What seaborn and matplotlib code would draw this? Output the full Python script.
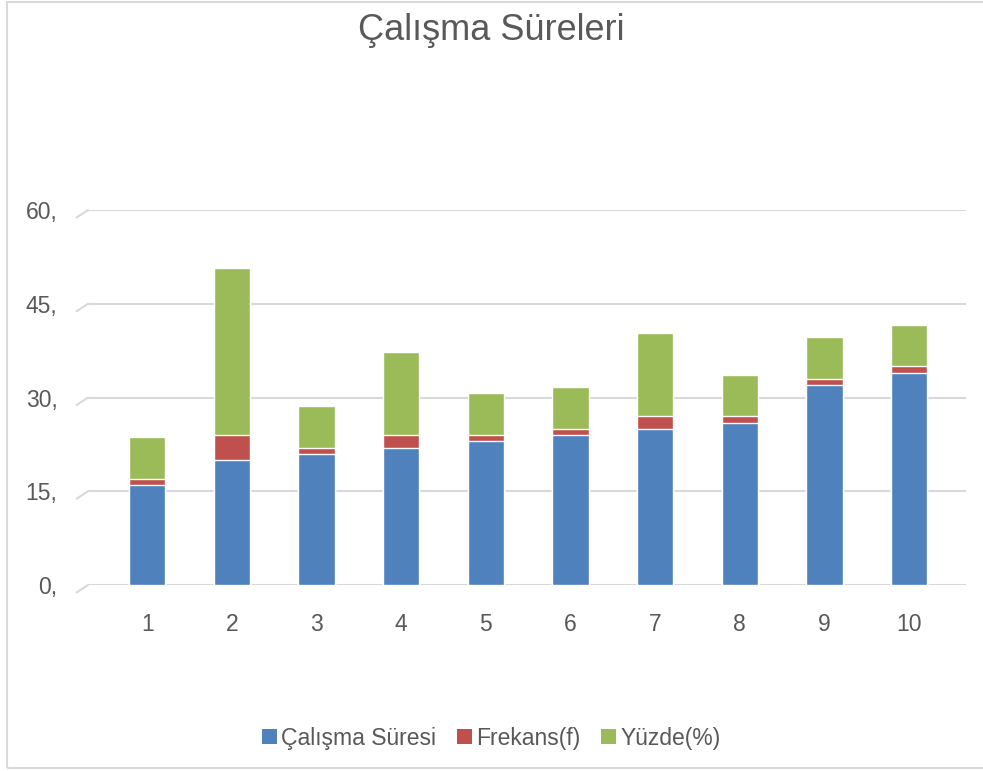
import numpy as np
import pandas as pd
import matplotlib
matplotlib.use('Agg')
import matplotlib.pyplot as plt
import matplotlib.transforms as mtransforms
from matplotlib.patches import Patch, Rectangle
import seaborn as sns

# data
categories = ['1', '2', '3', '4', '5', '6', '7', '8', '9', '10']
calisma_suresi = [16, 20, 21, 22, 23, 24, 25, 26, 32, 34]
frekans = [1, 4, 1, 2, 1, 1, 2, 1, 1, 1]
yuzde = [6.67, 26.67, 6.67, 13.33, 6.67, 6.67, 13.33, 6.67, 6.67, 6.67]
series_names = ['Çalışma Süresi', 'Frekans(f)', 'Yüzde(%)']
y_ticks = [0, 15, 30, 45, 60]
y_ticklabels = ['0,', '15,', '30,', '45,', '60,']

colors = ['#4F81BD', '#C0504D', '#9BBB59']
text_color = '#595959'
grid_color = '#D9D9D9'

df = pd.DataFrame({
    'cat': categories,
    'blue': calisma_suresi,
    'red': frekans,
    'green': yuzde,
})
df['blue_red'] = df['blue'] + df['red']
df['total'] = df['blue_red'] + df['green']

sns.set_theme(style='white')
plt.rcParams['font.family'] = ['Liberation Sans', 'DejaVu Sans']

fig = plt.figure(figsize=(9.83, 7.71), dpi=100)
ax = fig.add_axes([0.0895, 0.2412, 0.893, 0.4864])

# stacked bars: draw cumulative totals back to front
bw = 0.43
sns.barplot(data=df, x='cat', y='total', color=colors[2], width=bw,
            errorbar=None, saturation=1, ax=ax, zorder=3)
sns.barplot(data=df, x='cat', y='blue_red', color=colors[1], width=bw,
            errorbar=None, saturation=1, ax=ax, zorder=3)
sns.barplot(data=df, x='cat', y='blue', color=colors[0], width=bw,
            errorbar=None, saturation=1, ax=ax, zorder=3)

ax.set_xlim(-0.70, 9.67)
ax.set_ylim(0, 60)
ax.set_yticks(y_ticks)
ax.set_yticklabels(y_ticklabels)
ax.set_xlabel('')
ax.set_ylabel('')
ax.tick_params(axis='both', length=0, labelsize=16.5, colors=text_color)
ax.tick_params(axis='x', pad=20)
ax.tick_params(axis='y', pad=22)
for s in ax.spines.values():
    s.set_visible(False)

# gridlines with small slanted tail on the left (3D wall look)
blend = mtransforms.blended_transform_factory(ax.transAxes, ax.transData)
for t in y_ticks:
    ax.axhline(t, color=grid_color, lw=1.5, zorder=1)
    ax.plot([-0.013, 0], [t - 1.2, t], color=grid_color, lw=1.5,
            transform=blend, clip_on=False, zorder=1)

fig.text(0.5, 1 - 31 / 771, 'Çalışma Süreleri', ha='center', va='center',
         fontsize=26, color=text_color)

handles = [Patch(facecolor=c, edgecolor='none') for c in colors]
fig.legend(handles, series_names, loc='center', bbox_to_anchor=(0.5, 1 - 738 / 771),
           ncol=3, frameon=False, fontsize=16.5, handlelength=0.65, handleheight=0.65,
           handletextpad=0.2, columnspacing=0.9, labelcolor=text_color)

fig.patches.append(Rectangle((0.0075, 0.004), 1.0, 0.994, transform=fig.transFigure,
                             fill=False, edgecolor=grid_color, lw=1.5))

fig.savefig('out.png', dpi=100, facecolor='white')
